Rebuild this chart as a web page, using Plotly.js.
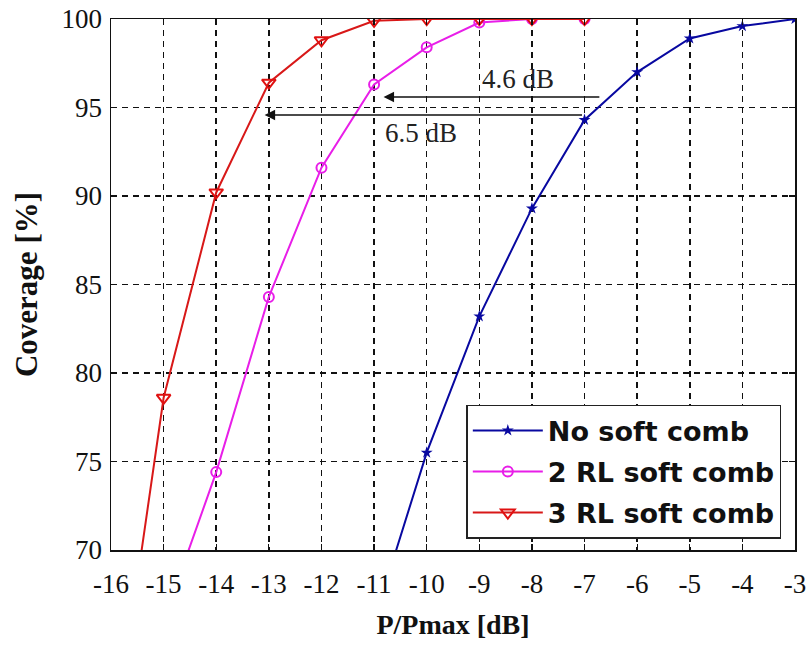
<!DOCTYPE html>
<html>
<head>
<meta charset="utf-8">
<script src="https://cdn.plot.ly/plotly-3.0.1.min.js"></script>
<style>html,body{margin:0;padding:0;background:#fff;}#chart{width:806px;height:645px;}</style>
</head>
<body>
<div id="chart"></div>
<script>
// Data
const seriesNames = ["No soft comb", "2 RL soft comb", "3 RL soft comb"];
const xNoSoft = [-11, -10, -9, -8, -7, -6, -5, -4, -3];
const yNoSoft = [66, 75.5, 83.2, 89.3, 94.3, 97.0, 98.9, 99.6, 100];
const x2RL = [-15, -14, -13, -12, -11, -10, -9, -8, -7];
const y2RL = [66, 74.4, 84.3, 91.6, 96.3, 98.4, 99.8, 100, 100];
const x3RL = [-16, -15, -14, -13, -12, -11, -10, -9, -8, -7];
const y3RL = [58, 78.6, 90.2, 96.4, 98.8, 99.9, 100, 100, 100, 100];
const xTicks = [-16, -15, -14, -13, -12, -11, -10, -9, -8, -7, -6, -5, -4, -3];
const yTicks = [70, 75, 80, 85, 90, 95, 100];
const gapLabels = ["4.6 dB", "6.5 dB"];

const serif = "'Liberation Serif', 'Times New Roman', serif";

const traces = [
  {
    x: xNoSoft, y: yNoSoft, name: seriesNames[0], type: "scatter", mode: "lines+markers",
    legendgroup: "a",
    line: {color: "#0808a0", width: 2},
    marker: {symbol: "star", size: 9, color: "#0808a0", line: {width: 0}},
    cliponaxis: true
  },
  {
    x: x2RL, y: y2RL, name: seriesNames[1], type: "scatter", mode: "lines+markers",
    legendgroup: "b",
    line: {color: "#e81ee8", width: 2},
    marker: {symbol: "circle-open", size: 10, color: "#e81ee8", line: {width: 2, color: "#e81ee8"}},
    cliponaxis: true
  },
  {
    x: x3RL, y: y3RL, name: seriesNames[2], type: "scatter", mode: "lines+markers",
    legendgroup: "c",
    line: {color: "#d81818", width: 2},
    marker: {symbol: "triangle-down-open", size: 12, color: "#e01010", line: {width: 2, color: "#e01010"}},
    cliponaxis: true
  }
];

const layout = {
  width: 806, height: 645,
  margin: {l: 111, r: 11, t: 19, b: 95},
  paper_bgcolor: "#ffffff", plot_bgcolor: "#ffffff",
  showlegend: true,
  legend: {
    x: 0.98, y: 0.021, xanchor: "right", yanchor: "bottom",
    bgcolor: "#ffffff", bordercolor: "#222", borderwidth: 1.5,
    font: {family: "DejaVu Sans, sans-serif", size: 27, color: "#111", weight: "bold"},
    tracegroupgap: 3,
    itemwidth: 70
  },
  xaxis: {
    range: [-16, -3], tickmode: "array", tickvals: xTicks, ticktext: xTicks.map(String),
    showgrid: true, gridcolor: "#111", gridwidth: 1.5, griddash: "6px,5px",
    showline: true, linecolor: "#111", linewidth: 1.5, mirror: "ticks",
    ticks: "inside", ticklen: 6, tickcolor: "#111", tickwidth: 1.2,
    zeroline: false, ticklabeloverflow: "allow", ticklabelstandoff: 9,
    tickfont: {family: serif, size: 27, color: "#111"},
    title: {text: "P/Pmax [dB]", font: {family: serif, size: 28, color: "#111", weight: "bold"}, standoff: 16}
  },
  yaxis: {
    range: [70, 100], tickmode: "array", tickvals: yTicks, ticktext: yTicks.map(String),
    showgrid: true, gridcolor: "#111", gridwidth: 1.5, griddash: "6px,5px",
    showline: true, linecolor: "#111", linewidth: 1.5, mirror: "ticks",
    ticks: "inside", ticklen: 6, tickcolor: "#111", tickwidth: 1.2,
    zeroline: false, ticklabelstandoff: 2,
    tickfont: {family: serif, size: 27, color: "#111"},
    title: {text: "Coverage [%]", font: {family: serif, size: 31, color: "#111", weight: "bold"}, standoff: 14}
  },
  annotations: [
    {
      x: -10.82, y: 95.6, ax: -6.69, ay: 95.6, xref: "x", yref: "y", axref: "x", ayref: "y",
      showarrow: true, arrowhead: 2, arrowsize: 1.4, arrowwidth: 1.5, arrowcolor: "#111", text: ""
    },
    {
      x: -13.08, y: 94.58, ax: -7.02, ay: 94.58, xref: "x", yref: "y", axref: "x", ayref: "y",
      showarrow: true, arrowhead: 2, arrowsize: 1.4, arrowwidth: 1.5, arrowcolor: "#111", text: ""
    },
    {
      x: -8.26, y: 96.6, xref: "x", yref: "y", showarrow: false, text: gapLabels[0],
      font: {family: serif, size: 27, color: "#222"}
    },
    {
      x: -10.1, y: 93.55, xref: "x", yref: "y", showarrow: false, text: gapLabels[1],
      font: {family: serif, size: 27, color: "#222"}
    }
  ]
};

Plotly.newPlot("chart", traces, layout, {displayModeBar: false, staticPlot: true});
</script>
</body>
</html>
